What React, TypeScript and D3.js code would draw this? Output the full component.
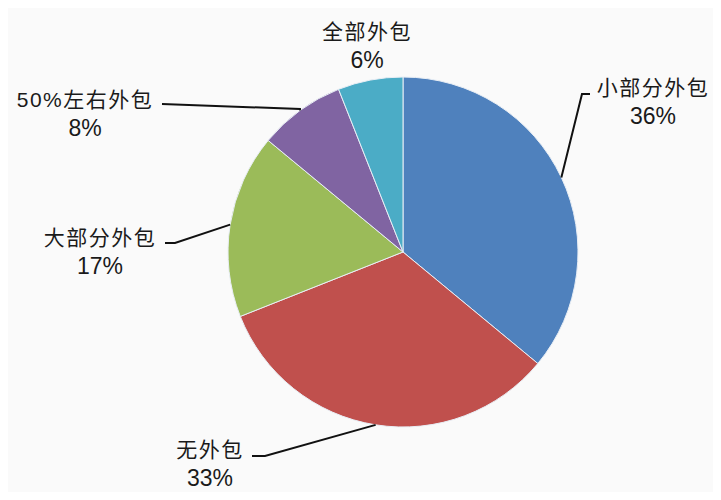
import React, { useEffect, useRef } from 'react';
import * as d3 from 'd3';

const categories = ['小部分外包', '无外包', '大部分外包', '50%左右外包', '全部外包'];
const shares = [36, 33, 17, 8, 6];
const colors = ['#4f81bd', '#c0504d', '#9bbb59', '#8064a2', '#4bacc6'];

// label text anchor (centre of the two lines) and the elbow of the leader
const labelLayout: Record<string, { x: number; y: number; elbow?: [number, number]; end?: [number, number] }> = {
  '小部分外包': { x: 653, y: 88, elbow: [582, 94], end: [590, 94] },
  '无外包': { x: 210, y: 450, elbow: [265, 456], end: [252, 456] },
  '大部分外包': { x: 100, y: 238, elbow: [175, 243], end: [165, 243] },
  '50%左右外包': { x: 85, y: 100, elbow: [300, 109], end: [162, 104] },
  '全部外包': { x: 367, y: 32 },
};

export default function App() {
  const svgRef = useRef<SVGSVGElement>(null);

  useEffect(() => {
    if (!svgRef.current) return;
    const width = 721, height = 500;
    const cx = 403, cy = 252, r = 175;

    const svg = d3.select(svgRef.current);
    svg.selectAll('*').remove();
    svg.attr('width', width).attr('height', height);

    svg.append('rect').attr('width', width).attr('height', height).attr('fill', '#fafafa');

    const data = categories.map((c, i) => ({ name: c, value: shares[i], color: colors[i] }));
    const pie = d3.pie<typeof data[0]>().value(d => d.value).sort(null);
    const arcs = pie(data);
    const arc = d3.arc<d3.PieArcDatum<typeof data[0]>>().innerRadius(0).outerRadius(r);

    const g = svg.append('g').attr('transform', `translate(${cx},${cy})`);
    g.selectAll('path')
      .data(arcs)
      .enter()
      .append('path')
      .attr('d', arc)
      .attr('fill', d => d.data.color)
      .attr('stroke', '#e8eef5')
      .attr('stroke-width', 1);

    const font = "'Liberation Sans', Arial, 'Noto Sans CJK SC', sans-serif";

    arcs.forEach(a => {
      const lay = labelLayout[a.data.name];
      const mid = (a.startAngle + a.endAngle) / 2;
      const px = cx + r * Math.sin(mid);
      const py = cy - r * Math.cos(mid);
      if (lay.elbow && lay.end) {
        svg.append('path')
          .attr('d', d3.line()([[px, py], lay.elbow, lay.end]))
          .attr('fill', 'none')
          .attr('stroke', '#111')
          .attr('stroke-width', 2);
      }
      const t = svg.append('text')
        .attr('x', lay.x)
        .attr('y', lay.y)
        .attr('text-anchor', 'middle')
        .attr('font-family', font)
        .attr('fill', '#1a1a1a');
      t.append('tspan')
        .attr('x', lay.x)
        .attr('dy', '0.35em')
        .attr('font-size', 21)
        .attr('letter-spacing', 1.5)
        .text(a.data.name);
      t.append('tspan')
        .attr('x', lay.x)
        .attr('dy', 29)
        .attr('font-size', 23)
        .text(`${a.data.value}%`);
    });
  }, []);

  return (
    <div style={{ margin: -8 }}>
      <svg ref={svgRef} style={{ display: 'block' }} />
    </div>
  );
}
